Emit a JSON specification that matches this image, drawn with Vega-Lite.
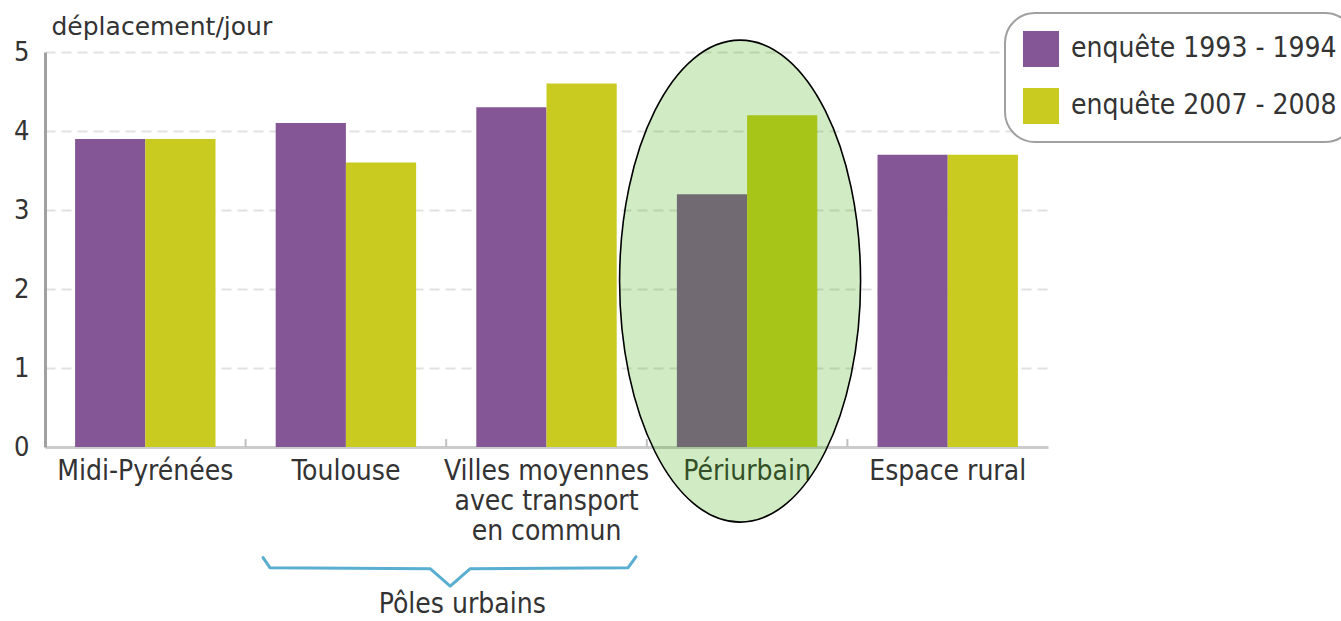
{
  "$schema": "https://vega.github.io/schema/vega-lite/v6.json",
  "autosize": "none",
  "width": 1003,
  "height": 395,
  "padding": {"left": 45, "top": 52, "right": 293, "bottom": 174},
  "background": "white",
  "config": {
    "view": {"stroke": null},
    "font": "DejaVu Sans Condensed, Liberation Sans, sans-serif",
    "legend": {
      "orient": "none",
      "legendX": 960,
      "legendY": -39,
      "strokeColor": "#a0a0a0",
      "strokeWidth": 2,
      "cornerRadius": 30,
      "padding": 18,
      "fillColor": "white",
      "symbolType": "square",
      "symbolSize": 1296,
      "symbolStrokeWidth": 0,
      "symbolOpacity": 1,
      "labelFontSize": 28,
      "labelColor": "#333333",
      "labelFont": "DejaVu Sans Condensed, Liberation Sans, sans-serif",
      "labelOffset": 12,
      "rowPadding": 21,
      "labelLimit": 400
    }
  },
  "datasets": {
    "bars": [
      {"zone": "Midi-Pyrénées", "survey": "enquête 1993 - 1994", "value": 3.9},
      {"zone": "Midi-Pyrénées", "survey": "enquête 2007 - 2008", "value": 3.9},
      {"zone": "Toulouse", "survey": "enquête 1993 - 1994", "value": 4.1},
      {"zone": "Toulouse", "survey": "enquête 2007 - 2008", "value": 3.6},
      {"zone": "Villes moyennes avec transport en commun", "survey": "enquête 1993 - 1994", "value": 4.3},
      {"zone": "Villes moyennes avec transport en commun", "survey": "enquête 2007 - 2008", "value": 4.6},
      {"zone": "Périurbain", "survey": "enquête 1993 - 1994", "value": 3.2},
      {"zone": "Périurbain", "survey": "enquête 2007 - 2008", "value": 4.2},
      {"zone": "Espace rural", "survey": "enquête 1993 - 1994", "value": 3.7},
      {"zone": "Espace rural", "survey": "enquête 2007 - 2008", "value": 3.7}
    ],
    "ticks": [
      {"pos": 1, "low": 0, "high": 0.1},
      {"pos": 2, "low": 0, "high": 0.1},
      {"pos": 3, "low": 0, "high": 0.1},
      {"pos": 4, "low": 0, "high": 0.1}
    ],
    "ellipse": [{"pos": 3.465, "level": 2.1}],
    "brace": [
      {"pos": 1.087, "level": -1.40, "order": 1},
      {"pos": 1.122, "level": -1.53, "order": 2},
      {"pos": 1.92, "level": -1.54, "order": 3},
      {"pos": 2.02, "level": -1.76, "order": 4},
      {"pos": 2.12, "level": -1.54, "order": 5},
      {"pos": 2.906, "level": -1.53, "order": 6},
      {"pos": 2.946, "level": -1.39, "order": 7}
    ],
    "group": [{"pos": 2.08, "level": -2.0, "label": "Pôles urbains"}]
  },
  "layer": [
    {
      "data": {"name": "bars"},
      "mark": {"type": "bar"},
      "encoding": {
        "x": {
          "field": "zone",
          "type": "nominal",
          "sort": null,
          "scale": {"paddingInner": 0.3, "paddingOuter": 0.15},
          "axis": {
            "title": null,
            "labelAngle": 0,
            "labelFontSize": 28,
            "labelColor": "#333333",
            "labelPadding": 10,
            "labelLineHeight": 30,
            "labelLimit": 300,
            "labelExpr": "datum.label == 'Villes moyennes avec transport en commun' ? ['Villes moyennes', 'avec transport', 'en commun'] : datum.label",
            "domainColor": "#cccccc",
            "domainWidth": 3,
            "ticks": false,
            "grid": false
          }
        },
        "xOffset": {"field": "survey", "type": "nominal", "scale": {"paddingInner": 0, "paddingOuter": 0}},
        "y": {
          "field": "value",
          "type": "quantitative",
          "scale": {"domain": [0, 5], "nice": false},
          "axis": {
            "title": "déplacement/jour",
            "titleAngle": 0,
            "titleAlign": "left",
            "titleBaseline": "alphabetic",
            "titleX": 6,
            "titleY": -18,
            "titleFont": "DejaVu Sans",
            "titleFontSize": 25,
            "titleFontWeight": "normal",
            "titleColor": "#333333",
            "values": [0, 1, 2, 3, 4, 5],
            "format": "d",
            "labelFontSize": 27,
            "labelColor": "#333333",
            "labelPadding": 16,
            "ticks": false,
            "domainColor": "#a0a0a0",
            "domainWidth": 3,
            "grid": true,
            "gridColor": "#e2e2e2",
            "gridWidth": 2,
            "gridDash": [10, 6]
          }
        },
        "color": {
          "field": "survey",
          "type": "nominal",
          "scale": {"range": ["#845695", "#c9cb20"]},
          "legend": {"title": null}
        }
      }
    },
    {
      "data": {"name": "ticks"},
      "mark": {"type": "rule", "color": "#c0c0c0", "strokeWidth": 2},
      "encoding": {
        "x": {"field": "pos", "type": "quantitative", "scale": {"domain": [0, 5], "nice": false, "zero": false}, "axis": null},
        "y": {"field": "low", "type": "quantitative", "scale": {"domain": [0, 5], "nice": false}},
        "y2": {"field": "high"}
      }
    },
    {
      "data": {"name": "ellipse"},
      "mark": {
        "type": "point",
        "shape": "M -0.5 0 A 0.5 1 0 1 0 0.5 0 A 0.5 1 0 1 0 -0.5 0 Z",
        "size": 232324,
        "filled": true,
        "fill": "#39ab00",
        "fillOpacity": 0.23,
        "stroke": "#000000",
        "strokeWidth": 1.6,
        "strokeOpacity": 1,
        "opacity": 1
      },
      "encoding": {
        "x": {"field": "pos", "type": "quantitative", "scale": {"domain": [0, 5], "nice": false, "zero": false}, "axis": null},
        "y": {"field": "level", "type": "quantitative", "scale": {"domain": [0, 5], "nice": false}}
      }
    },
    {
      "data": {"name": "brace"},
      "mark": {"type": "line", "color": "#5aaed0", "strokeWidth": 3, "strokeJoin": "round", "strokeCap": "round"},
      "encoding": {
        "x": {"field": "pos", "type": "quantitative", "scale": {"domain": [0, 5], "nice": false, "zero": false}, "axis": null},
        "y": {"field": "level", "type": "quantitative", "scale": {"domain": [0, 5], "nice": false}},
        "order": {"field": "order", "type": "quantitative"}
      }
    },
    {
      "data": {"name": "group"},
      "mark": {"type": "text", "fontSize": 28, "color": "#333333", "align": "center", "baseline": "middle"},
      "encoding": {
        "x": {"field": "pos", "type": "quantitative", "scale": {"domain": [0, 5], "nice": false, "zero": false}, "axis": null},
        "y": {"field": "level", "type": "quantitative", "scale": {"domain": [0, 5], "nice": false}},
        "text": {"field": "label"}
      }
    }
  ],
  "resolve": {"scale": {"x": "independent"}}
}
